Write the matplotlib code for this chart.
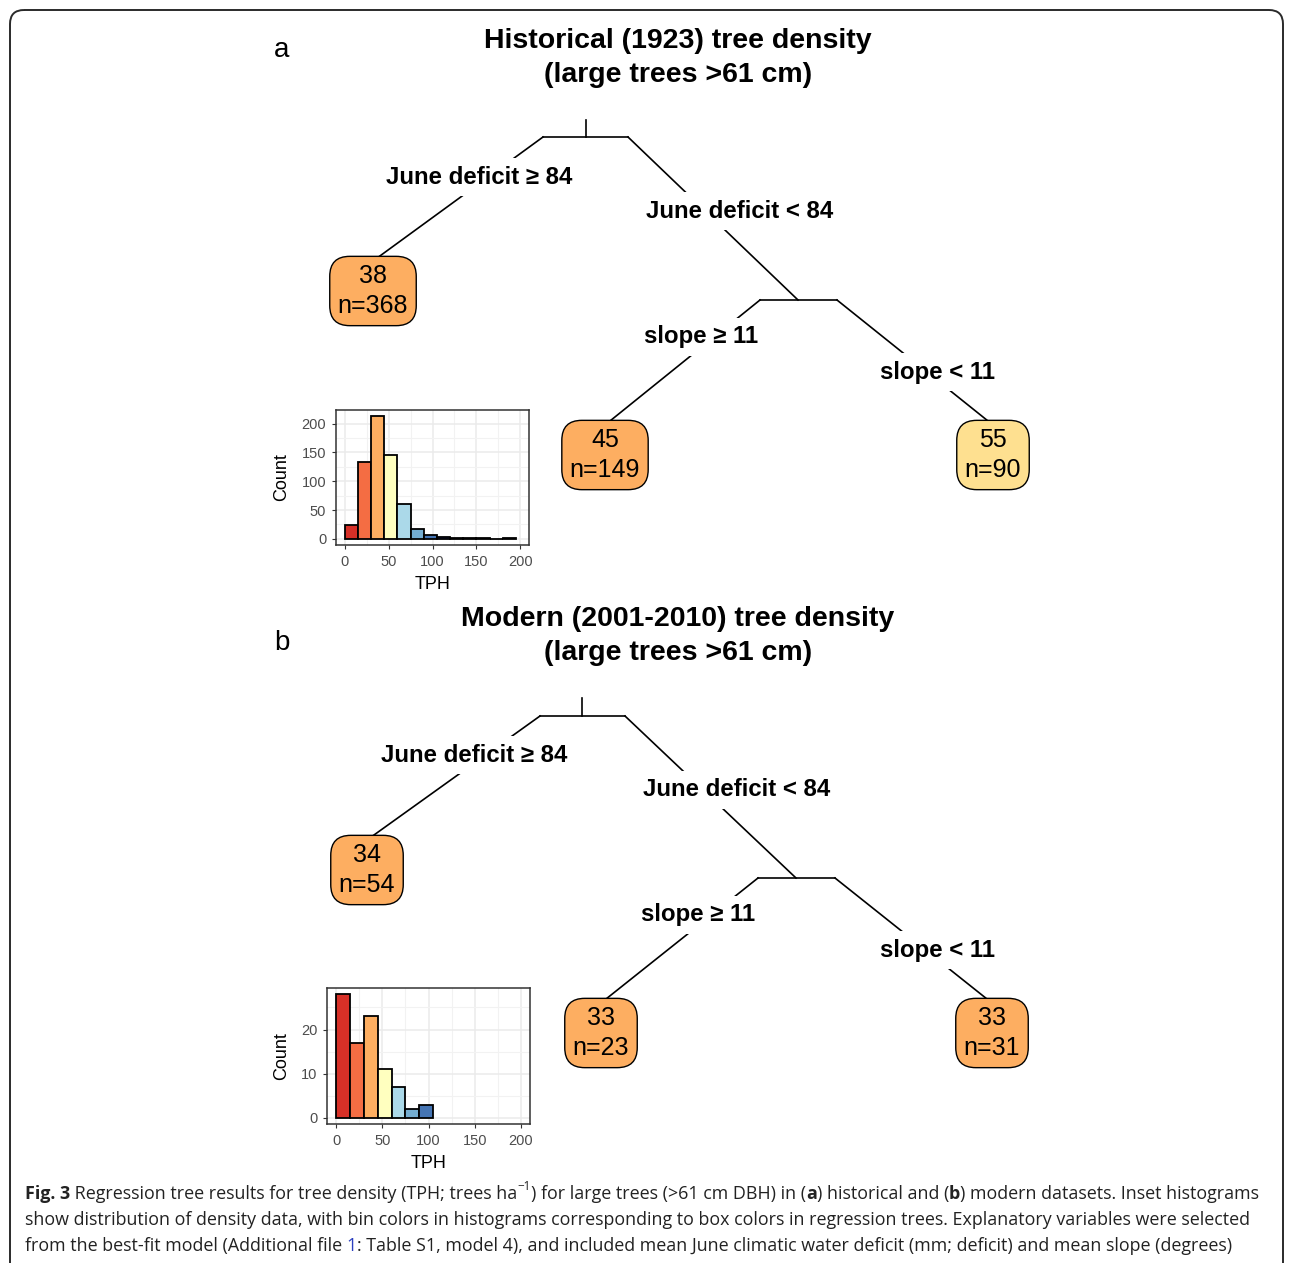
import numpy as np
import matplotlib
matplotlib.use("Agg")
import matplotlib.pyplot as plt
from matplotlib.patches import FancyBboxPatch
from matplotlib.ticker import MultipleLocator

plt.rcParams["font.family"] = ["Liberation Sans", "DejaVu Sans"]

W, H = 1293, 1263

# ---- data ----
bin_width = 15
hist_a_counts = [24, 133, 213, 146, 61, 17, 6, 3, 1, 1, 1, 0, 1]
hist_b_counts = [28, 17, 23, 11, 7, 2, 3]
bin_colors = ["#d73027", "#f46d43", "#fdae61", "#ffffbf", "#abd9e9",
              "#74add1", "#4575b4", "#313695", "#313695", "#313695",
              "#313695", "#313695", "#313695"]

titles = ["Historical (1923) tree density\n(large trees >61 cm)",
          "Modern (2001-2010) tree density\n(large trees >61 cm)"]
panel_letters = ["a", "b"]
split_labels = ["June deficit \u2265 84", "June deficit < 84",
                "slope \u2265 11", "slope < 11"]
leaf_means_a = [38, 45, 55]
leaf_n_a = [368, 149, 90]
leaf_colors_a = ["#fdae61", "#fdae61", "#fee090"]
leaf_means_b = [34, 33, 33]
leaf_n_b = [54, 23, 31]
leaf_colors_b = ["#fdae61", "#fdae61", "#fdae61"]

# tree layout in pixels (x, y) per panel
layouts = [
    dict(title=(678, 58), letter=(282, 50), stem=(586, 120, 137), bar=(543, 628),
         labels=[(479, 177), (740, 211), (701, 337), (938, 372)],
         split2=(798, 300), bar2=(760, 837),
         leaves=[(373, 291), (605, 455), (993, 455)]),
    dict(title=(678, 636), letter=(282, 643), stem=(582, 698, 716), bar=(540, 625),
         labels=[(474, 755), (737, 790), (698, 915), (937, 950)],
         split2=(796, 878), bar2=(758, 835),
         leaves=[(367, 870), (601, 1033), (992, 1033)]),
]

fig = plt.figure(figsize=(W / 100, H / 100), dpi=100)
ax = fig.add_axes([0, 0, 1, 1])
ax.set_xlim(0, W)
ax.set_ylim(H, 0)
ax.axis("off")

# outer frame
ax.add_patch(FancyBboxPatch((10, 10), W - 20, H + 40,
                            boxstyle="round,pad=0,rounding_size=14",
                            fill=False, ec="#2a2a2a", lw=1.4))

lc = dict(color="black", lw=1.2, zorder=1)


def draw_tree(lay, title, letter, means, ns, colors):
    ax.text(*lay["title"], title, ha="center", va="center", fontsize=20.5,
            fontweight="bold", linespacing=1.38)
    ax.text(*lay["letter"], letter, ha="center", va="center", fontsize=20)
    sx, sy0, sy1 = lay["stem"]
    ax.plot([sx, sx], [sy0, sy1], **lc)
    bl, br = lay["bar"]
    ax.plot([bl, br], [sy1, sy1], **lc)
    s2x, s2y = lay["split2"]
    b2l, b2r = lay["bar2"]
    ax.plot([b2l, b2r], [s2y, s2y], **lc)
    l1, l2, l3 = lay["leaves"]
    ax.plot([bl, l1[0]], [sy1, l1[1] - 30], **lc)
    ax.plot([br, s2x], [sy1, s2y], **lc)
    ax.plot([b2l, l2[0]], [s2y, l2[1] - 30], **lc)
    ax.plot([b2r, l3[0]], [s2y, l3[1] - 30], **lc)
    for (x, y), lab in zip(lay["labels"], split_labels):
        ax.text(x, y, lab, ha="center", va="center", fontsize=17.3,
                fontweight="bold", zorder=3,
                bbox=dict(boxstyle="square,pad=0.3", fc="white", ec="none"))
    for (x, y), m, n, c in zip(lay["leaves"], means, ns, colors):
        ax.text(x, y, f"{m}\nn={n}", ha="center", va="center", fontsize=18,
                linespacing=1.28, zorder=4,
                bbox=dict(boxstyle="round,pad=0.32,rounding_size=0.8",
                          fc=c, ec="black", lw=1.0))


draw_tree(layouts[0], titles[0], panel_letters[0], leaf_means_a, leaf_n_a, leaf_colors_a)
draw_tree(layouts[1], titles[1], panel_letters[1], leaf_means_b, leaf_n_b, leaf_colors_b)


def draw_hist(rect, counts, ymax, ystep, yminor):
    hx = fig.add_axes([rect[0] / W, 1 - rect[3] / H,
                       (rect[2] - rect[0]) / W, (rect[3] - rect[1]) / H])
    edges = np.arange(len(counts)) * bin_width
    hx.bar(edges, counts, width=bin_width, align="edge",
           color=bin_colors[:len(counts)], edgecolor="black", lw=1.3, zorder=3)
    hx.set_xlim(-10, 210)
    hx.set_ylim(-0.05 * ymax, ymax * 1.05)
    hx.xaxis.set_major_locator(MultipleLocator(50))
    hx.xaxis.set_minor_locator(MultipleLocator(25))
    hx.yaxis.set_major_locator(MultipleLocator(ystep))
    hx.yaxis.set_minor_locator(MultipleLocator(yminor))
    hx.grid(which="major", color="#ebebeb", lw=1.1, zorder=0)
    hx.grid(which="minor", color="#f2f2f2", lw=0.8, zorder=0)
    hx.set_axisbelow(True)
    hx.tick_params(which="major", length=3, width=0.8, color="#333333",
                   labelsize=10.5, labelcolor="#4d4d4d", pad=4)
    hx.tick_params(which="minor", length=0)
    for sp in hx.spines.values():
        sp.set_color("#333333")
        sp.set_linewidth(1.1)
    hx.set_xlabel("TPH", fontsize=13, labelpad=5)
    hx.set_ylabel("Count", fontsize=13, labelpad=8)
    return hx


draw_hist((336, 410, 529, 545), hist_a_counts, 213, 50, 25)
draw_hist((327, 988, 530, 1124), hist_b_counts, 28, 10, 5)

# ---- caption ----
cap_size = 12.9
reg = dict(fontsize=cap_size, family=["Open Sans", "DejaVu Sans"], color="#222222")
bold = dict(reg, fontweight="bold")
sup = dict(reg, fontsize=cap_size * 0.65)
blue = dict(reg, color="#2b3fbf")

caption_lines = [
    [("Fig. 3", bold), (" Regression tree results for tree density (TPH; trees ha", reg),
     ("\u22121", sup), (") for large trees (>61 cm DBH) in (", reg), ("a", bold),
     (") historical and (", reg), ("b", bold), (") modern datasets. Inset histograms", reg)],
    [("show distribution of density data, with bin colors in histograms corresponding "
      "to box colors in regression trees. Explanatory variables were selected", reg)],
    [("from the best-fit model (Additional file ", reg), ("1", blue),
     (": Table S1, model 4), and included mean June climatic water deficit (mm; deficit) "
      "and mean slope (degrees)", reg)],
]
caption_y = [1194, 1220, 1246]

fig.canvas.draw()
renderer = fig.canvas.get_renderer()


def advance(txt, props):
    t1 = ax.text(0, 0, txt + "x", **props)
    t2 = ax.text(0, 0, "x", **props)
    w = t1.get_window_extent(renderer).width - t2.get_window_extent(renderer).width
    t1.remove()
    t2.remove()
    return w


for runs, y in zip(caption_lines, caption_y):
    x = 25
    for txt, props in runs:
        dy = -7 if props is sup else 0
        ax.text(x, y + dy, txt, ha="left", va="center", **props)
        x += advance(txt, props)

fig.savefig("out.png", dpi=100, facecolor="white")
